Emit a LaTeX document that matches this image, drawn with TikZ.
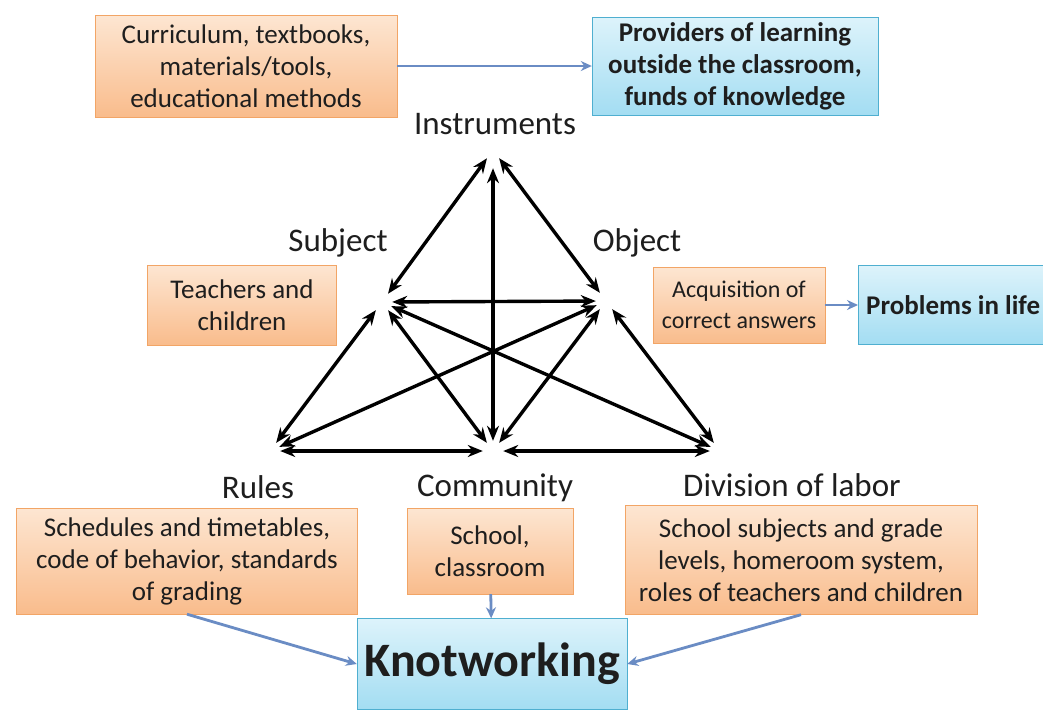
\documentclass[tikz,border=0pt]{standalone}
\usepackage{fontspec}
\setmainfont{Carlito}
\usepackage{tikz}
\usetikzlibrary{arrows.meta,positioning}
\definecolor{peachtop}{HTML}{FDE6D2}
\definecolor{peachbot}{HTML}{F9BC8C}
\definecolor{peachline}{HTML}{F2A566}
\definecolor{skytop}{HTML}{DDF3FB}
\definecolor{skybot}{HTML}{A3DDF2}
\definecolor{skyline}{HTML}{4FAFD0}
\definecolor{linkblue}{HTML}{6A8CC4}
\definecolor{ink}{HTML}{1E1E1E}

\begin{document}
\begin{tikzpicture}[x=1pt, y=-1pt,
    orangebox/.style={draw=peachline, top color=peachtop, bottom color=peachbot, align=center, text=ink, font=\fontsize{27}{32}\selectfont, inner sep=0pt},
    bluebox/.style={draw=skyline, top color=skytop, bottom color=skybot, align=center, text=ink, font=\bfseries\fontsize{27}{32}\selectfont, inner sep=0pt},
    vtx/.style={circle, minimum size=20pt, inner sep=0pt},
    corner/.style={font=\fontsize{33}{36}\selectfont, text=ink},
    tri/.style={<->, line width=3.4pt, >={Stealth[length=15pt,width=12pt]}},
    link/.style={->, draw=linkblue, line width=2.8pt, >={Stealth[length=11pt,width=10pt]}}]
    \useasboundingbox[fill=white] (0,0) rectangle (1043,724);

    \node[orangebox, minimum width=302pt, minimum height=102pt] (curric) at (246,66) {Curriculum, textbooks,\\materials/tools,\\educational methods};
    \node[bluebox, minimum width=286pt, minimum height=98pt] (provid) at (735,66) {Providers of learning\\outside the classroom,\\funds of knowledge};
    \node[orangebox, minimum width=189pt, minimum height=80pt] (teach) at (242,305) {Teachers and\\children};
    \node[orangebox, minimum width=172pt, minimum height=76pt, font=\fontsize{24}{31}\selectfont] (acquis) at (739,305) {Acquisition of\\correct answers};
    \node[bluebox, anchor=west, minimum height=79pt, inner xsep=8pt] (probl) at (858,305) {Problems in life};
    \node[orangebox, minimum width=341pt, minimum height=106pt] (sched) at (187,561) {Schedules and timetables,\\code of behavior, standards\\of grading};
    \node[orangebox, minimum width=166pt, minimum height=86pt] (school) at (490,551) {School,\\classroom};
    \node[orangebox, minimum width=352pt, minimum height=109pt] (divis) at (801,560) {School subjects and grade\\levels, homeroom system,\\roles of teachers and children};
    \node[bluebox, minimum width=270pt, minimum height=91pt, font=\bfseries\fontsize{48}{54}\selectfont] (knot) at (492,664) {Knotworking};

    \node[vtx] (inst) at (493,150) {};
    \node[vtx] (subj) at (382,302) {};
    \node[vtx] (obj) at (606,301) {};
    \node[vtx] (rules) at (270,451) {};
    \node[vtx] (comm) at (493,451) {};
    \node[vtx] (divl) at (720,451) {};

    \node[corner] (instlab) at (495,124) {Instruments};
    \node[corner] (subjlab) at (338,243) {Subject};
    \node[corner] (objlab) at (637,243) {Object};
    \node[corner] (ruleslab) at (258,487) {Rules};
    \node[corner] (commlab) at (495,488) {Community};
    \node[corner] (divllab) at (792,485) {Division of labor};

    \draw[tri] (inst) -- (subj);
    \draw[tri] (inst) -- (obj);
    \draw[tri, shorten <=8pt] (inst) -- (comm);
    \draw[tri] (subj) -- (obj);
    \draw[tri] (subj) -- (rules);
    \draw[tri] (subj) -- (comm);
    \draw[tri] (subj) -- (divl);
    \draw[tri] (obj) -- (rules);
    \draw[tri] (obj) -- (comm);
    \draw[tri] (obj) -- (divl);
    \draw[tri] (rules) -- (comm);
    \draw[tri] (comm) -- (divl);

    \draw[link] (curric) -- (provid);
    \draw[link] (acquis) -- (probl);
    \draw[link] (school) -- (knot);
    \draw[link] (sched.south) -- (knot.west);
    \draw[link] (divis.south) -- (knot.east);
\end{tikzpicture}
\end{document}
